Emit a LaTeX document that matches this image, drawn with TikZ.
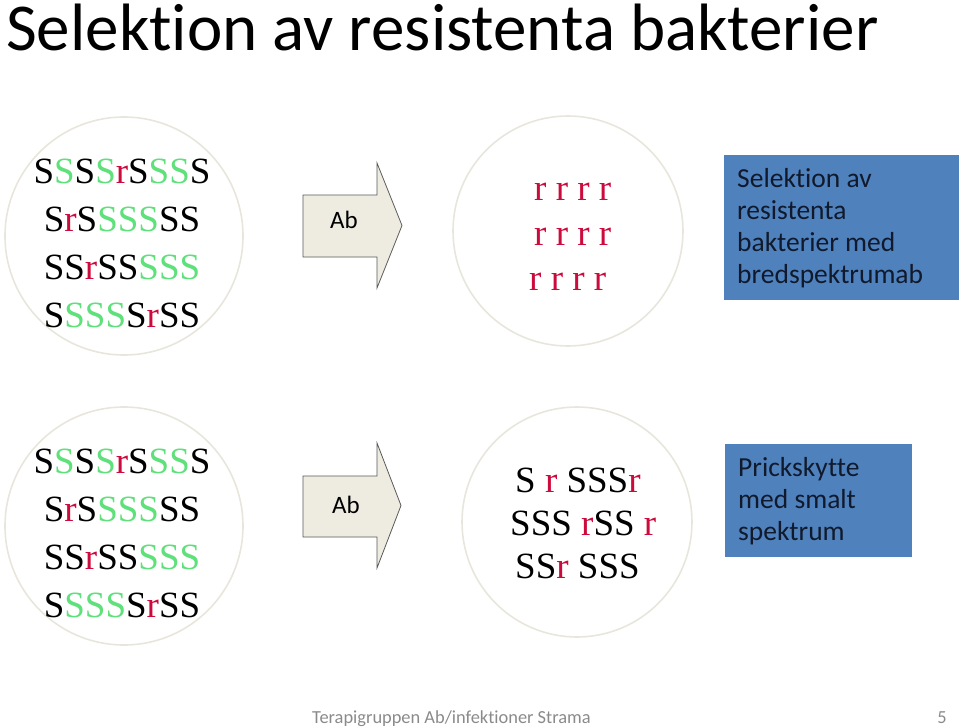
\documentclass[tikz,border=0pt]{standalone}
\usepackage{fontspec}
\usepackage{xcolor}
\setmainfont{Liberation Serif}
\newfontfamily\calibri[Ligatures={NoCommon,NoContextual}]{Carlito}

\definecolor{sgreen}{HTML}{5EE07A}
\definecolor{rred}{HTML}{CC0A3C}
\definecolor{dishline}{HTML}{E8E6DC}
\definecolor{abfill}{HTML}{EEECE1}
\definecolor{boxblue}{HTML}{4F81BD}
\definecolor{boxtext}{HTML}{101A2C}
\definecolor{footgray}{HTML}{8A8A8A}

\newcommand{\gS}{\textcolor{sgreen}{S}}
\newcommand{\rR}{\textcolor{rred}{r}}

\begin{document}
\begin{tikzpicture}[x=1pt,y=-1pt,
  dish/.style={circle,draw=dishline,line width=1.6pt,fill=white,minimum size=#1,inner sep=0pt},
  row/.style={anchor=base,inner sep=0pt,font=\fontsize{37}{44}\selectfont},
  rowl/.style={row,anchor=base west},
  abarrow/.style={draw=black!65,fill=abfill,line width=0.8pt,line join=miter},
  abtext/.style={inner sep=0pt,font=\calibri\fontsize{25}{30}\selectfont},
  note/.style={fill=boxblue,anchor=north west,inner xsep=13pt,align=flush left,text=boxtext,
    font=\calibri\fontsize{27.5}{32}\selectfont}]
\useasboundingbox (0,0) rectangle (959,728);

\node[anchor=base west,inner sep=0pt,font=\calibri\fontsize{67}{80}\selectfont] (title) at (6,50)
  {Selektion av resistenta bakterier};

% the four dishes
\node[dish=238pt] (dishTL) at (124,236) {};
\node[dish=230pt] (dishTM) at (568,231) {};
\node[dish=238pt] (dishBL) at (124,526) {};
\node[dish=230pt] (dishBM) at (577,522) {};

% mixed populations, before Ab
\foreach \dy/\pos in {0/T,290/B}
  \foreach \txt [count=\i] in {S\gS S\gS\rR S\gS\gS S, S\rR S\gS\gS\gS SS, SS\rR SS\gS\gS\gS, S\gS\gS\gS S\rR SS}
    \node[row] (mix\pos\i) at (122,135+48*\i+\dy) {\txt};

% after broad spectrum Ab
\node[rowl,text=rred] (res1) at (534,200) {r r r r};
\node[rowl,text=rred] (res2) at (534,245) {r r r r};
\node[rowl,text=rred] (res3) at (529,290) {r r r r};

% after narrow spectrum Ab
\node[rowl] (left1) at (515,492) {S \rR{} SSS\rR};
\node[rowl] (left2) at (510,535) {SSS \rR SS \rR};
\node[rowl] (left3) at (515,578) {SS\rR{} SSS};

% arrows
\draw[abarrow] (303,195) -- (377,195) -- (377,163) -- (402,225.5) -- (377,288) -- (377,257) -- (303,257) -- cycle;
\node[abtext] (abT) at (344,220) {Ab};
\draw[abarrow] (303,476) -- (377,476) -- (377,443) -- (401,505.5) -- (377,568) -- (377,537) -- (303,537) -- cycle;
\node[abtext] (abB) at (346,505) {Ab};

% text boxes
\node[note,text width=209pt,minimum height=145pt] (broad) at (724,155)
  {Selektion av\\resistenta\\bakterier med\\bredspektrumab};
\node[note,text width=161pt,minimum height=113pt] (narrow) at (725,444)
  {Prickskytte\\med smalt\\spektrum};

% footer
\node[anchor=base west,inner sep=0pt,text=footgray,font=\calibri\fontsize{18.4}{22}\selectfont] (foot) at (312,723)
  {Terapigruppen Ab/infektioner Strama};
\node[anchor=base east,inner sep=0pt,text=footgray,font=\calibri\fontsize{18.4}{22}\selectfont] (page) at (947,723) {5};
\end{tikzpicture}
\end{document}
